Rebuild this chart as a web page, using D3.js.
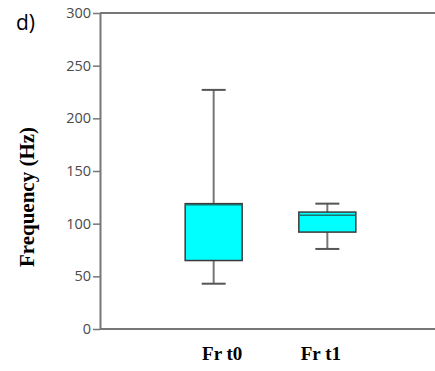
<!DOCTYPE html>
<html>
<head>
<meta charset="utf-8">
<script src="https://cdn.jsdelivr.net/npm/d3@7"></script>
<style>
  html, body { margin: 0; padding: 0; background: #fff; }
  svg { display: block; }
</style>
</head>
<body>
<script>
// Box-plot summary for each measurement
const categories = ["Fr t0", "Fr t1"];
const whiskerLow  = [43, 76];
const q1Values    = [65, 92];
const medians     = [118, 108];
const q3Values    = [119, 111];
const whiskerHigh = [227, 119];
const yTicks = [0, 50, 100, 150, 200, 250, 300];

const W = 435, H = 371;
const plotLeft = 100, plotTop = 13, plotBottom = 329, plotRight = 435;

const svg = d3.select("body").append("svg")
  .attr("width", W).attr("height", H);

const y = d3.scaleLinear().domain([0, 300]).range([plotBottom, plotTop]);
const x = d3.scalePoint().domain(categories).range([plotLeft, plotLeft + 341]).padding(1);

const axisColor = "#777";

// top frame line
svg.append("line")
  .attr("x1", plotLeft).attr("x2", plotRight)
  .attr("y1", y(300)).attr("y2", y(300))
  .attr("stroke", axisColor).attr("stroke-width", 2);

// bottom axis line
svg.append("line")
  .attr("x1", plotLeft).attr("x2", plotRight)
  .attr("y1", y(0)).attr("y2", y(0))
  .attr("stroke", axisColor).attr("stroke-width", 2);

// y axis
const yAxis = svg.append("g")
  .attr("transform", `translate(${plotLeft},0)`)
  .call(d3.axisLeft(y).tickValues(yTicks).tickSize(7).tickPadding(2).tickSizeOuter(0));
yAxis.select(".domain").attr("stroke", axisColor).attr("stroke-width", 2);
yAxis.selectAll(".tick line").attr("stroke", axisColor).attr("stroke-width", 1.5);
yAxis.selectAll(".tick text")
  .attr("fill", "#4a4a4a")
  .style("font-family", "'Open Sans', 'Noto Sans', sans-serif")
  .style("font-size", "14.5px");

// category labels (slightly nudged toward the middle of the plot)
const labelNudge = [8, -7];
const xAxis = svg.append("g")
  .attr("transform", `translate(0,${y(0)})`)
  .call(d3.axisBottom(x).tickSize(0).tickPadding(18));
xAxis.select(".domain").remove();
xAxis.selectAll(".tick text")
  .attr("fill", "#000")
  .attr("dy", "0.71em")
  .attr("dx", (d, i) => labelNudge[i])
  .style("font-family", "'Liberation Serif', 'Times New Roman', serif")
  .style("font-weight", "bold")
  .style("font-size", "19px");

// y title
svg.append("text")
  .attr("transform", `translate(34,197) rotate(-90)`)
  .attr("text-anchor", "middle")
  .style("font-family", "'Liberation Serif', 'Times New Roman', serif")
  .style("font-weight", "bold")
  .style("font-size", "21px")
  .text("Frequency (Hz)");

// panel letter
svg.append("text")
  .attr("x", 16).attr("y", 30)
  .style("font-family", "'Open Sans', 'Noto Sans', sans-serif")
  .style("font-size", "21px")
  .attr("fill", "#000")
  .text("d)");

// boxes
const boxW = 57, capW = 24;
const data = categories.map((c, i) => ({
  c, lo: whiskerLow[i], q1: q1Values[i], med: medians[i], q3: q3Values[i], hi: whiskerHigh[i]
}));

const g = svg.selectAll("g.box").data(data).join("g").attr("class", "box");

// whisker stems
g.append("line")
  .attr("x1", d => x(d.c)).attr("x2", d => x(d.c))
  .attr("y1", d => y(d.hi)).attr("y2", d => y(d.lo))
  .attr("stroke", "#777").attr("stroke-width", 2);
// caps
["hi", "lo"].forEach(k => {
  g.append("line")
    .attr("x1", d => x(d.c) - capW / 2).attr("x2", d => x(d.c) + capW / 2)
    .attr("y1", d => y(d[k])).attr("y2", d => y(d[k]))
    .attr("stroke", "#555").attr("stroke-width", 2);
});
// box body
g.append("rect")
  .attr("x", d => x(d.c) - boxW / 2)
  .attr("width", boxW)
  .attr("y", d => y(d.q3))
  .attr("height", d => y(d.q1) - y(d.q3))
  .attr("fill", "#00ffff")
  .attr("stroke", "#3a3a3a").attr("stroke-width", 1.5);
// median
g.append("line")
  .attr("x1", d => x(d.c) - boxW / 2).attr("x2", d => x(d.c) + boxW / 2)
  .attr("y1", d => y(d.med)).attr("y2", d => y(d.med))
  .attr("stroke", "#1f6f6f").attr("stroke-width", 1.5);
</script>
</body>
</html>
